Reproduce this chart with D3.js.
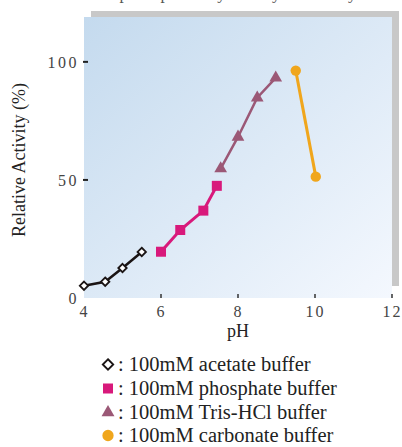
<!DOCTYPE html>
<html><head><meta charset="utf-8">
<script src="https://cdn.jsdelivr.net/npm/d3@7"></script>
<style>body{margin:0;background:#fff;} svg{display:block;}</style>
</head><body>
<svg id="c" width="402" height="447"></svg>
<script>
const title = "pH dependency of enzyme activity";
const xTicks = [4, 6, 8, 10, 12];
const yTicks = [0, 50, 100];
const acetatePH = [4.0, 4.55, 5.0, 5.5];
const acetateVal = [5.2, 6.9, 12.7, 19.5];
const phosphatePH = [6.0, 6.5, 7.1, 7.45];
const phosphateVal = [19.6, 28.8, 37.0, 47.5];
const trisPH = [7.55, 8.0, 8.5, 8.98];
const trisVal = [54.8, 68.2, 84.8, 93.2];
const carbonatePH = [9.5, 10.02];
const carbonateVal = [96.3, 51.4];
const legendLabels = [": 100mM acetate buffer", ": 100mM phosphate buffer", ": 100mM Tris-HCl buffer", ": 100mM carbonate buffer"];

const svg = d3.select("#c");
const L = 84, R = 392, T = 17, B = 298;
const x = d3.scaleLinear().domain([4, 12]).range([L, R]);
const y = d3.scaleLinear().domain([0, 119]).range([B, T]);
const serif = "'Liberation Serif','Times New Roman',serif";

const defs = svg.append("defs");
const g = defs.append("linearGradient").attr("id", "bg").attr("x1", "0").attr("y1", "0").attr("x2", "1").attr("y2", "1");
g.append("stop").attr("offset", "0").attr("stop-color", "#c4daee");
g.append("stop").attr("offset", "1").attr("stop-color", "#f4f8fe");

svg.append("text").attr("x", (L + R) / 2).attr("y", -1.5).attr("text-anchor", "middle")
  .attr("font-family", serif).attr("font-size", 17).attr("fill", "#555").text(title);

svg.append("rect").attr("x", L + 7).attr("y", T - 6).attr("width", R - L).attr("height", B - T - 6).attr("fill", "#c8c8c8");
svg.append("rect").attr("x", L).attr("y", T).attr("width", R - L).attr("height", B - T).attr("fill", "url(#bg)");

// x axis
const xa = svg.append("g").attr("transform", `translate(0,${B})`)
  .call(d3.axisBottom(x).tickValues(xTicks).tickSize(0).tickPadding(0).tickFormat(d3.format("d")));
xa.select(".domain").remove();
xa.selectAll("text").attr("font-family", serif).attr("font-size", 16).attr("fill", "#444")
  .attr("letter-spacing", 2).attr("dy", 0).attr("y", 19);
svg.append("g").selectAll("line").data(xTicks.filter(d => d > 4)).join("line")
  .attr("x1", d => x(d)).attr("x2", d => x(d)).attr("y1", B - 4).attr("y2", B)
  .attr("stroke", "#333").attr("stroke-width", 1.5);

// y axis
const ya = svg.append("g").attr("transform", `translate(${L},0)`)
  .call(d3.axisLeft(y).tickValues(yTicks).tickSize(0).tickPadding(0).tickFormat(d3.format("d")));
ya.select(".domain").remove();
ya.selectAll("text").attr("font-family", serif).attr("font-size", 16).attr("fill", "#444")
  .attr("letter-spacing", 2.5).attr("x", -5).attr("dy", "0.35em");
svg.append("g").selectAll("line").data(yTicks.filter(d => d > 0)).join("line")
  .attr("x1", L - 1).attr("x2", L + 4).attr("y1", d => y(d)).attr("y2", d => y(d))
  .attr("stroke", "#222").attr("stroke-width", 2);

svg.append("text").attr("x", 238).attr("y", 337).attr("text-anchor", "middle")
  .attr("font-family", serif).attr("font-size", 18).attr("fill", "#222").text("pH");
svg.append("text").attr("transform", "translate(25,160) rotate(-90)").attr("text-anchor", "middle")
  .attr("font-family", serif).attr("font-size", 18).attr("fill", "#222").text("Relative Activity (%)");

const series = [
  {px: acetatePH, v: acetateVal, color: "#1a1414", sym: d3.symbolDiamond2, size: 45, lsize: 70, fill: "#fff", stroke: "#1a1414", sw: 1.8, lw: 2.5},
  {px: phosphatePH, v: phosphateVal, color: "#d8197b", sym: d3.symbolSquare, size: 100, lsize: 100, fill: "#d8197b", stroke: "none", sw: 0, lw: 3},
  {px: trisPH, v: trisVal, color: "#9b5876", sym: d3.symbolTriangle, size: 70, lsize: 72, fill: "#9b5876", stroke: "none", sw: 0, lw: 2.5},
  {px: carbonatePH, v: carbonateVal, color: "#f0a61c", sym: d3.symbolCircle, size: 85, lsize: 100, fill: "#f0a61c", stroke: "none", sw: 0, lw: 3}
];
const line = d3.line().x(d => x(d[0])).y(d => y(d[1]));
series.forEach(s => {
  const pts = s.px.map((p, i) => [p, s.v[i]]);
  svg.append("path").attr("d", line(pts)).attr("fill", "none").attr("stroke", s.color).attr("stroke-width", s.lw);
  svg.append("g").selectAll("path").data(pts).join("path")
    .attr("transform", d => `translate(${x(d[0])},${y(d[1])})`)
    .attr("d", d3.symbol().type(s.sym).size(s.size))
    .attr("fill", s.fill).attr("stroke", s.stroke).attr("stroke-width", s.sw);
});

// legend
const lg = svg.append("g");
const rowsY = [371, 395, 419, 442];
series.forEach((s, i) => {
  lg.append("path").attr("transform", `translate(108,${rowsY[i] - 6.5})`)
    .attr("d", d3.symbol().type(s.sym).size(s.lsize))
    .attr("fill", s.fill).attr("stroke", s.stroke).attr("stroke-width", s.sw);
  lg.append("text").attr("x", 118).attr("y", rowsY[i]).attr("font-family", serif).attr("font-size", 20.5)
    .attr("fill", "#222").text(legendLabels[i]);
});
</script>
</body></html>
